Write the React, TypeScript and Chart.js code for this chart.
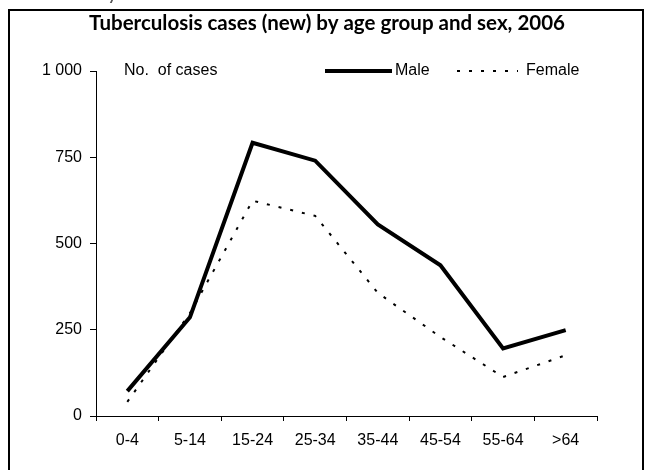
import React, { useEffect, useRef } from "react";
import { Chart, registerables } from "chart.js";

Chart.register(...registerables);

// ---- data ----
const ageGroups = ["0-4", "5-14", "15-24", "25-34", "35-44", "45-54", "55-64", ">64"];
const maleCases = [72, 286, 792, 740, 555, 437, 196, 249];
const femaleCases = [41, 298, 624, 580, 357, 229, 113, 176];
const yTickValues = [0, 250, 500, 750, 1000];
const seriesNames = ["Male", "Female"];
const chartTitle = "Tuberculosis cases (new) by age group and sex, 2006";
const yAxisCaption = "No.  of cases";
const clippedHeading = "5.  TB cases by";

// ---- layout ----
const W = 645;
const H = 470;
const AREA = { left: 96, right: 597, top: 71, bottom: 416 };
const LABEL_FONT = "'Liberation Sans', Arial, sans-serif";

const fmt = (v: number) => String(v).replace(/\B(?=(\d{3})+(?!\d))/g, " ");

const framePlugin = {
  id: "frame",
  beforeDraw(chart: any) {
    const ctx = chart.ctx;
    ctx.save();
    ctx.fillStyle = "#fff";
    ctx.fillRect(0, 0, W, H);
    ctx.restore();
  },
  afterDraw(chart: any) {
    const ctx = chart.ctx;
    ctx.save();
    // clipped heading above the frame
    ctx.fillStyle = "#555";
    ctx.font = "bold 16px Lato, sans-serif";
    ctx.textAlign = "left";
    ctx.textBaseline = "alphabetic";
    ctx.fillText(clippedHeading, 12, 0);
    // frame
    ctx.strokeStyle = "#000";
    ctx.lineWidth = 2;
    ctx.beginPath();
    ctx.moveTo(9, H + 10);
    ctx.lineTo(9, 10);
    ctx.lineTo(643, 10);
    ctx.lineTo(643, H + 10);
    ctx.stroke();
    // title
    ctx.fillStyle = "#000";
    ctx.font = "bold 20.5px Lato, sans-serif";
    ctx.textAlign = "center";
    ctx.fillText(chartTitle, 327, 30);
    // y caption
    ctx.font = `16px ${LABEL_FONT}`;
    ctx.textAlign = "left";
    ctx.textBaseline = "middle";
    ctx.fillText(yAxisCaption, 124, AREA.top);
    // legend
    const items = [
      { x0: 325, x1: 392, tx: 395 },
      { x0: 457, x1: 518, tx: 526 },
    ];
    chart.data.datasets.forEach((ds: any, i: number) => {
      const it = items[i];
      ctx.strokeStyle = ds.borderColor;
      ctx.lineWidth = ds.borderWidth;
      ctx.setLineDash(ds.borderDash || []);
      ctx.lineCap = "butt";
      ctx.beginPath();
      ctx.moveTo(it.x0, AREA.top);
      ctx.lineTo(it.x1, AREA.top);
      ctx.stroke();
      ctx.setLineDash([]);
      ctx.fillStyle = "#000";
      ctx.fillText(ds.label, it.tx, AREA.top);
    });
    ctx.restore();
  },
};

export default function App() {
  const ref = useRef<HTMLCanvasElement | null>(null);
  useEffect(() => {
    if (!ref.current) return;
    const chart = new Chart(ref.current, {
      type: "line",
      data: {
        labels: ageGroups,
        datasets: [
          {
            label: seriesNames[0],
            data: maleCases,
            borderColor: "#000",
            borderWidth: 4,
            pointRadius: 0,
            tension: 0,
            fill: false,
          },
          {
            label: seriesNames[1],
            data: femaleCases,
            borderColor: "#000",
            borderWidth: 2,
            borderDash: [3, 9],
            pointRadius: 0,
            tension: 0,
            fill: false,
          },
        ],
      },
      options: {
        responsive: false,
        animation: false,
        devicePixelRatio: 1,
        layout: { padding: { top: AREA.top, right: W - AREA.right, left: 0, bottom: 0 } },
        plugins: { legend: { display: false }, title: { display: false }, tooltip: { enabled: false } },
        scales: {
          x: {
            type: "category",
            offset: true,
            grid: { display: true, drawOnChartArea: false, drawTicks: true, tickLength: 5, color: "#000", offset: true },
            border: { display: true, color: "#000", width: 1 },
            ticks: { color: "#000", font: { family: LABEL_FONT, size: 16 }, padding: 10, maxRotation: 0, autoSkip: false },
            afterFit: (s: any) => { s.height = H - AREA.bottom; },
          },
          y: {
            min: 0,
            max: 1000,
            afterBuildTicks: (s: any) => { s.ticks = yTickValues.map((v) => ({ value: v })); },
            grid: { display: true, drawOnChartArea: false, drawTicks: true, tickLength: 6, color: "#000" },
            border: { display: true, color: "#000", width: 1 },
            ticks: { color: "#000", font: { family: LABEL_FONT, size: 16 }, padding: 8, callback: (v: any) => fmt(Number(v)) },
            afterFit: (s: any) => { s.width = AREA.left; },
          },
        },
      },
      plugins: [framePlugin],
    } as any);
    return () => chart.destroy();
  }, []);
  return (
    <div style={{ position: "absolute", left: 0, top: 0, width: W, height: H, background: "#fff" }}>
      <canvas ref={ref} width={W} height={H} style={{ width: W, height: H, display: "block" }} />
    </div>
  );
}
